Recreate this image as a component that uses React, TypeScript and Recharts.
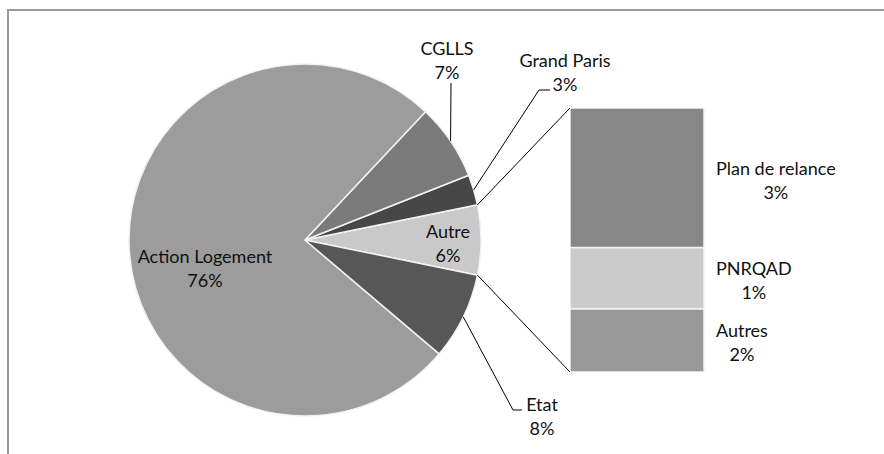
import { PieChart, Pie, Cell, BarChart, Bar, XAxis, YAxis, LabelList } from "recharts";

// pie slices, counter-clockwise starting from the split-off "Autre" slice
const pieNames = ["Autre", "Grand Paris", "CGLLS", "Action Logement", "Etat"];
const pieValues = [6.4, 2.8, 7.0, 75.8, 8.0];

// breakdown of "Autre", bottom to top
const barNames = ["Autres", "PNRQAD", "Plan de relance"];
const barValues = [1.5, 1.45, 3.3];

const pieColors = ["#c9c9c9", "#474747", "#7a7a7a", "#9c9c9c", "#575757"];
const barColors = ["#999999", "#cbcbcb", "#878787"];

const FONT = "Lato, 'Open Sans', sans-serif";
const FONT_SIZE = 18;
const LINE = 24;

const CX = 305;
const CY = 240;
const R = 176;

const BAR_X = 570;
const BAR_Y = 108;
const BAR_W = 134;
const BAR_H = 264;
const BAR_LABEL_LEFT = 716;

const pieLabelLayout: Record<string, { x: number; y: number; leader?: number[][] }> = {
  Autre: { x: 448, y: 231 },
  "Grand Paris": { x: 565, y: 60, leader: [[539, 90], [550, 90]] },
  CGLLS: { x: 447, y: 48, leader: [[451, 83]] },
  "Action Logement": { x: 205, y: 256 },
  Etat: { x: 542, y: 404, leader: [[513, 410], [522, 410]] },
};

const pieData = pieNames.map((name, i) => ({ name, value: pieValues[i] }));
const pieTotal = pieValues.reduce((a, b) => a + b, 0);
const startAngle = -(pieValues[0] / pieTotal) * 180;

const barRow: Record<string, string | number> = { name: "Autre" };
barNames.forEach((n, i) => (barRow[n] = barValues[i]));
const barData = [barRow];
const barTotal = barValues.reduce((a, b) => a + b, 0);

let ctx: CanvasRenderingContext2D | null = null;
function textWidth(s: string) {
  if (!ctx) ctx = document.createElement("canvas").getContext("2d");
  if (!ctx) return s.length * FONT_SIZE * 0.5;
  ctx.font = `${FONT_SIZE}px ${FONT}`;
  return ctx.measureText(s).width;
}

function polar(angle: number, r: number) {
  const a = (angle * Math.PI) / 180;
  return [CX + r * Math.cos(a), CY - r * Math.sin(a)];
}

function renderPieLabel(props: any) {
  const { name, percent, midAngle } = props;
  const lay = pieLabelLayout[name];
  if (!lay) return null;
  const pct = `${Math.round(percent * 100)}%`;
  let leader = null;
  if (lay.leader) {
    const pts = [polar(midAngle, R), ...lay.leader];
    leader = <polyline points={pts.map((p) => p.join(",")).join(" ")} fill="none" stroke="#000" strokeWidth={1} />;
  }
  let connectors = null;
  if (name === pieNames[0]) {
    const half = percent * 180;
    const top = polar(midAngle + half, R);
    const bottom = polar(midAngle - half, R);
    connectors = (
      <g>
        <line x1={top[0]} y1={top[1]} x2={BAR_X} y2={BAR_Y} stroke="#000" strokeWidth={1} />
        <line x1={bottom[0]} y1={bottom[1]} x2={BAR_X} y2={BAR_Y + BAR_H} stroke="#000" strokeWidth={1} />
      </g>
    );
  }
  return (
    <g key={name}>
      {connectors}
      {leader}
      <text x={lay.x} y={lay.y} textAnchor="middle" dominantBaseline="central" fontFamily={FONT} fontSize={FONT_SIZE} fill="#111">
        {name}
      </text>
      <text x={lay.x} y={lay.y + LINE} textAnchor="middle" dominantBaseline="central" fontFamily={FONT} fontSize={FONT_SIZE} fill="#111">
        {pct}
      </text>
    </g>
  );
}

function makeBarLabel(name: string) {
  return (props: any) => {
    const { y, height, value } = props;
    const mid = Number(y) + Number(height) / 2 + 2;
    // bar chart svg starts at BAR_X
    const cxText = BAR_LABEL_LEFT - BAR_X + textWidth(name) / 2;
    return (
      <g>
        <text x={cxText} y={mid - LINE / 2} textAnchor="middle" dominantBaseline="central" fontFamily={FONT} fontSize={FONT_SIZE} fill="#111">
          {name}
        </text>
        <text x={cxText} y={mid + LINE / 2} textAnchor="middle" dominantBaseline="central" fontFamily={FONT} fontSize={FONT_SIZE} fill="#111">
          {`${Math.round(Number(value))}%`}
        </text>
      </g>
    );
  };
}

export default function App() {
  const barChartWidth = 300;
  return (
    <div style={{ position: "absolute", left: 0, top: 0, width: 884, height: 454, background: "#fff", overflow: "hidden" }}>
      <div style={{ position: "absolute", left: 7, top: 9, width: 900, height: 500, borderLeft: "2px solid #9a9a9a", borderTop: "2px solid #9a9a9a" }} />
      <div style={{ position: "absolute", left: 0, top: 0 }}>
        <PieChart width={884} height={454} margin={{ top: 0, right: 0, bottom: 0, left: 0 }}>
          <Pie
            data={pieData}
            dataKey="value"
            nameKey="name"
            cx={CX}
            cy={CY}
            outerRadius={R}
            startAngle={startAngle}
            endAngle={startAngle + 360}
            stroke="#f2f2f2"
            strokeWidth={1.5}
            label={renderPieLabel}
            labelLine={false}
            isAnimationActive={false}
          >
            {pieData.map((d, i) => (
              <Cell key={d.name} fill={pieColors[i]} />
            ))}
          </Pie>
        </PieChart>
      </div>
      <div style={{ position: "absolute", left: BAR_X, top: BAR_Y }}>
        <BarChart
          width={barChartWidth}
          height={BAR_H}
          data={barData}
          margin={{ top: 0, right: barChartWidth - BAR_W, bottom: 0, left: 0 }}
          barCategoryGap={0}
        >
          <XAxis dataKey="name" hide />
          <YAxis hide domain={[0, barTotal]} />
          {barNames.map((n, i) => (
            <Bar key={n} dataKey={n} stackId="a" fill={barColors[i]} stroke="#f2f2f2" strokeWidth={1.5} isAnimationActive={false}>
              <LabelList dataKey={n} content={makeBarLabel(n)} />
            </Bar>
          ))}
        </BarChart>
      </div>
    </div>
  );
}
